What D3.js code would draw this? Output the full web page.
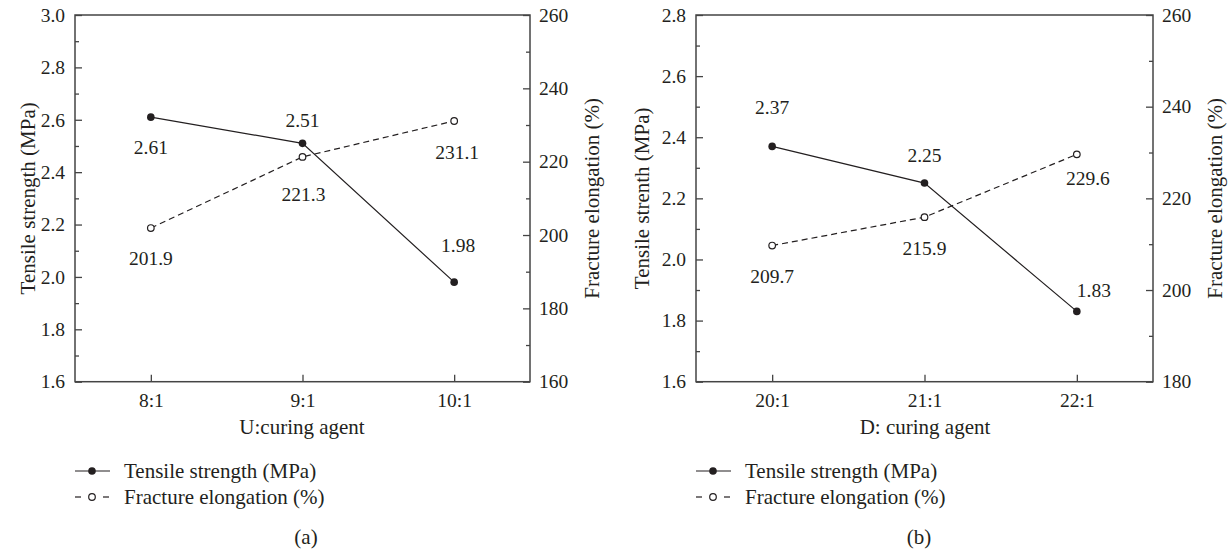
<!DOCTYPE html>
<html>
<head>
<meta charset="utf-8">
<script src="https://cdn.jsdelivr.net/npm/d3@7"></script>
</head>
<body style="margin:0; background:#fff">
<svg id="chart" width="1230" height="552"></svg>
<script>
// panel (a): U : curing agent
var catsA = ['8:1', '9:1', '10:1'];
var tensileA = [2.61, 2.51, 1.98];
var elongA = [201.9, 221.3, 231.1];
var leftTicksA = [1.6, 1.8, 2.0, 2.2, 2.4, 2.6, 2.8, 3.0];
var rightTicksA = [160, 180, 200, 220, 240, 260];

// panel (b): D : curing agent
var catsB = ['20:1', '21:1', '22:1'];
var tensileB = [2.37, 2.25, 1.83];
var elongB = [209.7, 215.9, 229.6];
var leftTicksB = [1.6, 1.8, 2.0, 2.2, 2.4, 2.6, 2.8];
var rightTicksB = [180, 200, 220, 240, 260];

var FONT = 'Liberation Serif';
var INK = '#231f20';
var fsText = 21;   // titles, legend
var fsNum = 19.5;  // ticks, value labels

var svg = d3.select('#chart').attr('font-family', FONT);

// label offsets (dx, dy from the point to the label centre)
var tensileOffA = [[0, 30], [0, -23], [4, -37]];
var elongOffA = [[0, 30], [1, 37], [3, 31]];
var tensileOffB = [[0, -39], [0, -28], [17, -21]];
var elongOffB = [[0, 30], [0, 31], [11, 24]];

function txt(g){
  return g.append('text').attr('font-family', FONT).attr('fill', INK);
}

function drawPanel(p){
  var g = svg.append('g');
  var x = d3.scalePoint().domain(p.cats).range([p.x0, p.x1]).padding(0.5);
  var yL = d3.scaleLinear().domain(d3.extent(p.leftTicks)).range([p.y1, p.y0]);
  var yR = d3.scaleLinear().domain(d3.extent(p.rightTicks)).range([p.y1, p.y0]);

  function minors(ticks){
    var m = [];
    for(var i = 0; i < ticks.length - 1; i++) m.push((ticks[i] + ticks[i+1]) / 2);
    return m;
  }

  // left axis
  g.append('g').attr('transform', 'translate(' + p.x0 + ',0)')
    .call(d3.axisLeft(yL).tickValues(p.leftTicks).tickFormat(d3.format('.1f'))
      .tickSizeInner(-7).tickSizeOuter(0).tickPadding(10));
  g.append('g').attr('transform', 'translate(' + p.x0 + ',0)')
    .call(d3.axisLeft(yL).tickValues(minors(p.leftTicks)).tickFormat('')
      .tickSizeInner(-4).tickSizeOuter(0));
  // right axis
  g.append('g').attr('transform', 'translate(' + p.x1 + ',0)')
    .call(d3.axisRight(yR).tickValues(p.rightTicks).tickFormat(d3.format('d'))
      .tickSizeInner(-7).tickSizeOuter(0).tickPadding(9));
  g.append('g').attr('transform', 'translate(' + p.x1 + ',0)')
    .call(d3.axisRight(yR).tickValues(minors(p.rightTicks)).tickFormat('')
      .tickSizeInner(-4).tickSizeOuter(0));
  // bottom axis
  g.append('g').attr('transform', 'translate(0,' + p.y1 + ')')
    .call(d3.axisBottom(x).tickSizeInner(-7).tickSizeOuter(0).tickPadding(11));

  g.selectAll('.domain').remove();
  g.selectAll('g').attr('font-family', FONT).attr('font-size', fsNum);
  g.selectAll('.tick line').attr('stroke', '#444').attr('stroke-width', 1.3);
  g.selectAll('.tick text').attr('font-family', FONT).attr('font-size', fsNum).attr('fill', INK);

  g.append('rect')
    .attr('x', p.x0).attr('y', p.y0)
    .attr('width', p.x1 - p.x0).attr('height', p.y1 - p.y0)
    .attr('fill', 'none').attr('stroke', '#444').attr('stroke-width', 1.5);

  // axis titles
  txt(g).attr('transform', 'translate(' + p.lTitleX + ',' + ((p.y0 + p.y1) / 2) + ') rotate(-90)')
    .attr('text-anchor', 'middle').attr('font-size', fsText).text(p.lTitle);
  txt(g).attr('transform', 'translate(' + p.rTitleX + ',' + ((p.y0 + p.y1) / 2) + ') rotate(-90)')
    .attr('text-anchor', 'middle').attr('font-size', fsText).text('Fracture elongation (%)');
  txt(g).attr('x', p.xTitleX).attr('y', 434)
    .attr('text-anchor', 'middle').attr('font-size', fsText).text(p.xTitle);

  // series
  var tData = p.cats.map(function(c, i){ return {c: c, v: p.tensile[i], o: p.tOff[i]}; });
  var eData = p.cats.map(function(c, i){ return {c: c, v: p.elong[i], o: p.eOff[i]}; });

  g.append('path').datum(eData)
    .attr('fill', 'none').attr('stroke', INK).attr('stroke-width', 1.2)
    .attr('stroke-dasharray', '6,4')
    .attr('d', d3.line().x(function(d){ return x(d.c); }).y(function(d){ return yR(d.v); }));
  g.append('path').datum(tData)
    .attr('fill', 'none').attr('stroke', INK).attr('stroke-width', 1.2)
    .attr('d', d3.line().x(function(d){ return x(d.c); }).y(function(d){ return yL(d.v); }));

  g.selectAll('circle.e').data(eData).enter().append('circle')
    .attr('class', 'e')
    .attr('cx', function(d){ return x(d.c); })
    .attr('cy', function(d){ return yR(d.v); })
    .attr('r', 3.3).attr('fill', '#fff').attr('stroke', INK).attr('stroke-width', 1.2);
  g.selectAll('circle.t').data(tData).enter().append('circle')
    .attr('class', 't')
    .attr('cx', function(d){ return x(d.c); })
    .attr('cy', function(d){ return yL(d.v); })
    .attr('r', 3.8).attr('fill', INK);

  g.selectAll('text.tl').data(tData).enter().append('text')
    .attr('class', 'tl').attr('font-family', FONT).attr('fill', INK)
    .attr('x', function(d){ return x(d.c) + d.o[0]; })
    .attr('y', function(d){ return yL(d.v) + d.o[1] + 7; })
    .attr('text-anchor', 'middle').attr('font-size', fsNum)
    .text(function(d){ return d3.format('.2f')(d.v); });
  g.selectAll('text.el').data(eData).enter().append('text')
    .attr('class', 'el').attr('font-family', FONT).attr('fill', INK)
    .attr('x', function(d){ return x(d.c) + d.o[0]; })
    .attr('y', function(d){ return yR(d.v) + d.o[1] + 7; })
    .attr('text-anchor', 'middle').attr('font-size', fsNum)
    .text(function(d){ return d3.format('.1f')(d.v); });

  // legend
  var lx = p.legX;
  g.append('line').attr('x1', lx - 17).attr('x2', lx + 18).attr('y1', 471).attr('y2', 471)
    .attr('stroke', INK).attr('stroke-width', 1.2);
  g.append('circle').attr('cx', lx).attr('cy', 471).attr('r', 3.8).attr('fill', INK);
  g.append('line').attr('x1', lx - 17).attr('x2', lx - 11).attr('y1', 497).attr('y2', 497)
    .attr('stroke', INK).attr('stroke-width', 1.2);
  g.append('line').attr('x1', lx + 11).attr('x2', lx + 17).attr('y1', 497).attr('y2', 497)
    .attr('stroke', INK).attr('stroke-width', 1.2);
  g.append('circle').attr('cx', lx).attr('cy', 497).attr('r', 3.3)
    .attr('fill', '#fff').attr('stroke', INK).attr('stroke-width', 1.2);
  txt(g).attr('x', lx + 32).attr('y', 478).attr('font-size', fsText).text('Tensile strength (MPa)');
  txt(g).attr('x', lx + 32).attr('y', 504).attr('font-size', fsText).text('Fracture elongation (%)');

  txt(g).attr('x', p.capX).attr('y', 544)
    .attr('text-anchor', 'middle').attr('font-size', fsText).text(p.cap);
}

drawPanel({
  cats: catsA, tensile: tensileA, elong: elongA,
  leftTicks: leftTicksA, rightTicks: rightTicksA,
  tOff: tensileOffA, eOff: elongOffA,
  x0: 75, x1: 530, y0: 15, y1: 381.7,
  lTitle: 'Tensile strength (MPa)', lTitleX: 35, rTitleX: 599,
  xTitle: 'U:curing agent', xTitleX: 302,
  legX: 92, cap: '(a)', capX: 306
});
drawPanel({
  cats: catsB, tensile: tensileB, elong: elongB,
  leftTicks: leftTicksB, rightTicks: rightTicksB,
  tOff: tensileOffB, eOff: elongOffB,
  x0: 696, x1: 1153, y0: 15, y1: 381.7,
  lTitle: 'Tensile strenth (MPa)', lTitleX: 649, rTitleX: 1222,
  xTitle: 'D: curing agent', xTitleX: 925,
  legX: 713, cap: '(b)', capX: 919
});
</script>
</body>
</html>
